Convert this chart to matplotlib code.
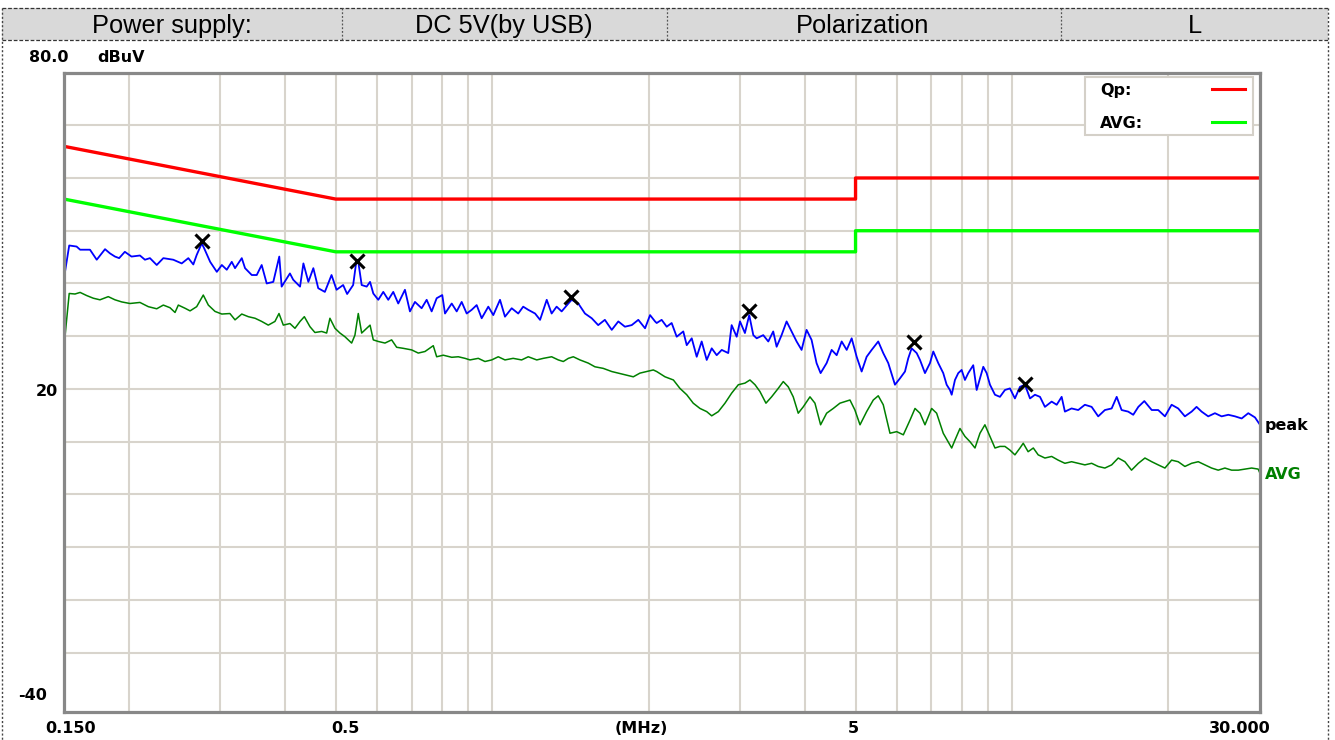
import matplotlib
matplotlib.use('Agg')
import matplotlib.pyplot as plt
from matplotlib.lines import Line2D
from matplotlib.patches import Rectangle
from matplotlib.ticker import NullLocator

plt.rcParams['font.family'] = ['DejaVu Sans']

# header cells
header_texts = ['Power supply:', 'DC 5V(by USB)', 'Polarization', 'L']

# limit lines (MHz, dBuV)
limit_freq = [0.15, 0.5, 5, 5, 30]
qp_limit = [66, 56, 56, 60, 60]
avg_limit = [56, 46, 46, 50, 50]

# peak trace
peak_freq = [0.150, 0.1535, 0.1586, 0.1611, 0.1683, 0.1734, 0.1799, 0.1839, 0.1880, 0.1915,
             0.1964, 0.2023, 0.2100, 0.2147, 0.2195, 0.2262, 0.2329, 0.2434, 0.2527, 0.2602,
             0.2660, 0.2700, 0.2761, 0.2790, 0.2866, 0.2952, 0.3018, 0.3085, 0.3154, 0.3200,
             0.3297, 0.3345, 0.3446, 0.3523, 0.3601, 0.3682, 0.3791, 0.3893, 0.3934, 0.4081,
             0.4141, 0.4268, 0.4332, 0.4428, 0.4527, 0.4626, 0.4764, 0.4907, 0.5017, 0.5166,
             0.5258, 0.5400, 0.5482,
             0.5524, 0.5608, 0.5734, 0.5820, 0.5904, 0.6036, 0.6171, 0.6309, 0.6450, 0.6594,
             0.6793, 0.6945, 0.7101, 0.7314, 0.7479, 0.7646, 0.7818, 0.8014, 0.8112, 0.8357,
             0.8543, 0.8734, 0.8930, 0.9129, 0.9334, 0.9543, 0.9827, 1.0047, 1.035, 1.058,
             1.090, 1.122, 1.147, 1.173, 1.209, 1.236, 1.273, 1.301, 1.330, 1.360,
             1.401, 1.422, 1.464, 1.508, 1.554, 1.599, 1.647, 1.698, 1.748, 1.800,
             1.855, 1.910, 1.968, 2.012, 2.057,
             2.072, 2.118, 2.166, 2.214, 2.264, 2.331, 2.367, 2.420, 2.474, 2.529,
             2.586, 2.644, 2.703, 2.764, 2.845, 2.888, 2.953, 2.997, 3.063, 3.122,
             3.179, 3.227, 3.322, 3.397, 3.472, 3.525, 3.603, 3.684, 3.767, 3.851,
             3.937, 4.025, 4.115, 4.207, 4.283, 4.399, 4.498, 4.599, 4.702, 4.808,
             4.915, 5.025, 5.137, 5.252, 5.370, 5.529, 5.653, 5.780, 5.954, 6.087,
             6.224, 6.315, 6.410, 6.555, 6.652, 6.801, 6.953, 7.056, 7.213, 7.374,
             7.486, 7.596,
             7.655, 7.767, 7.881, 8.000, 8.118, 8.238, 8.422, 8.551, 8.677, 8.805,
             8.938, 9.070, 9.273, 9.480, 9.692, 9.909, 10.13, 10.36, 10.59, 10.83,
             11.07, 11.32, 11.57, 11.92, 12.19, 12.46, 12.64, 13.02, 13.41, 13.81,
             14.23, 14.65, 15.09, 15.55, 15.90, 16.25, 16.73, 17.11, 17.50, 17.97,
             18.57, 19.11, 19.69, 20.28, 20.88, 21.51, 22.16, 22.65, 23.16, 23.85,
             24.57, 25.31, 26.07, 26.86, 27.66, 28.48, 29.34, 30.0]
peak_level = [41.0, 47.2, 47.0, 46.4, 46.4, 44.5, 46.5, 45.7, 45.1, 44.8,
              46.0, 45.1, 45.3, 44.5, 44.8, 43.5, 44.8, 44.5, 43.8, 44.8,
              43.6, 45.4, 47.6, 46.7, 44.1, 42.2, 43.5, 42.6, 44.1, 42.9,
              44.8, 42.9, 41.6, 41.6, 43.5, 40.0, 40.3, 45.1, 39.4, 41.9,
              40.7, 39.4, 43.8, 40.3, 42.9, 39.1, 38.4, 41.6, 38.8, 39.7,
              38.0, 39.7, 44.5,
              44.1, 39.7, 39.4, 40.3, 38.1, 36.9, 38.4, 36.9, 38.4, 36.2,
              38.8, 34.7, 36.5, 35.3, 36.9, 34.7, 37.2, 37.8, 34.3, 36.2,
              34.7, 36.5, 34.3, 35.0, 35.9, 33.4, 35.6, 34.0, 36.9, 33.7,
              35.3, 34.3, 35.6, 35.0, 34.3, 33.1, 36.9, 34.3, 35.6, 34.7,
              36.2, 36.9, 36.2, 34.3, 33.4, 32.1, 33.1, 31.2, 32.8, 31.8,
              32.1, 33.1, 31.5, 34.0, 32.8,
              32.5, 33.1, 31.8, 32.5, 29.9, 30.9, 28.3, 29.6, 26.1, 29.0,
              25.5, 27.7, 26.4, 27.4, 26.8, 32.1, 29.9, 32.8, 30.6, 34.0,
              30.2, 29.6, 30.2, 29.0, 30.9, 28.0, 30.2, 32.8, 30.9, 29.0,
              27.4, 31.2, 29.3, 24.9, 23.0, 24.9, 27.4, 26.4, 29.0, 27.4,
              29.6, 26.1, 23.3, 26.1, 27.4, 29.0, 26.8, 24.9, 20.8, 22.0,
              23.3, 25.8, 27.7, 26.8, 25.5, 23.0, 24.9, 27.1, 24.9, 23.0,
              20.8, 19.8,
              18.9, 21.7, 23.0, 23.6, 21.7, 23.0, 24.5, 19.8, 22.0, 24.2,
              23.0, 20.8, 18.9, 18.5, 19.8, 20.1, 18.2, 20.4, 20.8, 18.2,
              18.9, 18.5, 16.6, 17.6, 17.0, 18.5, 15.7, 16.3, 16.0, 17.0,
              16.6, 14.8, 16.0, 16.3, 18.5, 16.0, 15.7, 15.1, 16.6, 17.7,
              16.0, 16.0, 14.8, 17.0, 16.3, 14.8, 15.7, 16.6, 15.7, 14.8,
              15.4, 14.8, 15.1, 14.8, 14.4, 15.4, 14.6, 13.2]

# average trace
avg_freq = [0.150, 0.1535, 0.1575, 0.1611, 0.1659, 0.1708, 0.1759, 0.1825, 0.1880, 0.1937,
            0.2009, 0.2100, 0.2179, 0.2262, 0.2329, 0.2399, 0.2453, 0.2489, 0.2564, 0.2622,
            0.2700, 0.2780, 0.2843, 0.2928, 0.3018, 0.3128, 0.3200, 0.3297, 0.3394, 0.3497,
            0.3601, 0.3708, 0.3819, 0.3888, 0.3963, 0.4081, 0.4173, 0.4268, 0.4350, 0.4460,
            0.4559, 0.4697, 0.4802, 0.4872, 0.4982, 0.5093, 0.5207, 0.5364, 0.5443, 0.5524,
            0.5608, 0.5734, 0.5820, 0.5904, 0.6036, 0.6218, 0.6404, 0.6548, 0.6743, 0.6998,
            0.7206, 0.7424, 0.7701, 0.7818, 0.8049, 0.8357, 0.8604, 0.8864, 0.9062, 0.9400,
            0.9683, 0.9975, 1.027, 1.058, 1.097, 1.139, 1.173, 1.218, 1.254, 1.301,
            1.340, 1.370, 1.401, 1.432, 1.475, 1.530, 1.576, 1.635, 1.698, 1.748,
            1.800, 1.868, 1.924, 1.982, 2.041,
            2.072, 2.150, 2.231, 2.297, 2.367, 2.436, 2.510, 2.586, 2.644, 2.723,
            2.804, 2.888, 2.975, 3.063, 3.132, 3.203, 3.274, 3.362, 3.447, 3.550,
            3.630, 3.711, 3.794, 3.879, 3.966, 4.086, 4.177, 4.283, 4.399, 4.530,
            4.666, 4.878, 4.986, 5.100, 5.252, 5.409, 5.529, 5.653, 5.824, 6.000,
            6.179, 6.365, 6.507, 6.652, 6.801, 7.005, 7.161, 7.374, 7.596,
            7.655, 7.767, 7.941, 8.118, 8.301, 8.487, 8.677, 8.869, 9.070, 9.273,
            9.480, 9.692, 9.909, 10.13, 10.36, 10.51, 10.74, 10.99, 11.23, 11.57,
            11.92, 12.27, 12.64, 13.02, 13.41, 13.81, 14.23, 14.65, 15.09, 15.55,
            16.01, 16.49, 16.98, 17.50, 18.02, 18.57, 19.11, 19.69, 20.28, 20.88,
            21.51, 22.16, 22.82, 23.50, 24.21, 24.93, 25.68, 26.46, 27.25, 28.06,
            28.91, 29.76, 30.0]
avg_level = [28.0, 38.1, 38.0, 38.3, 37.7, 37.2, 36.9, 37.5, 36.9, 36.5,
             36.2, 36.4, 35.6, 35.2, 35.9, 35.4, 34.5, 35.9, 35.3, 34.8,
             35.6, 37.8, 35.9, 34.7, 34.2, 34.3, 33.1, 34.2, 33.7, 33.4,
             32.8, 32.1, 32.8, 34.3, 32.1, 32.4, 31.5, 32.8, 33.7, 31.8,
             30.7, 30.9, 30.6, 33.4, 31.5, 30.6, 29.9, 28.7, 30.2, 34.3,
             30.6, 31.5, 32.1, 29.3, 29.0, 28.7, 29.3, 27.9, 27.7, 27.4,
             26.8, 27.1, 28.2, 26.1, 26.4, 26.0, 26.1, 25.8, 25.5, 25.8,
             25.2, 25.5, 26.1, 25.5, 25.8, 25.5, 26.1, 25.5, 25.8, 26.1,
             25.5, 25.2, 25.8, 26.1, 25.5, 24.9, 24.2, 23.9, 23.3, 23.0,
             22.7, 22.3, 23.0, 23.3, 23.6,
             23.3, 22.3, 21.7, 20.1, 18.9, 17.3, 16.3, 15.7, 14.9, 15.7,
             17.3, 19.2, 20.8, 21.1, 21.7, 20.8, 19.5, 17.3, 18.5, 20.1,
             21.4, 20.4, 18.5, 15.4, 16.6, 18.5, 17.3, 13.2, 15.4, 16.3,
             17.3, 17.9, 16.0, 13.2, 15.7, 17.9, 18.7, 17.0, 11.6, 11.9,
             11.3, 14.1, 16.3, 15.4, 13.2, 16.3, 15.4, 11.6, 9.4,
             8.8, 10.3, 12.5, 11.0, 10.0, 8.8, 11.6, 13.2, 11.0, 8.8,
             9.1, 9.1, 8.4, 7.5, 8.8, 9.7, 8.1, 8.8, 7.5, 6.9,
             7.2, 6.5, 5.9, 6.2, 5.9, 5.6, 5.9, 5.3, 5.0, 5.6,
             6.9, 6.2, 4.6, 5.9, 6.9, 6.2, 5.6, 5.0, 6.5, 6.2,
             5.3, 5.9, 6.2, 5.6, 5.0, 4.6, 5.0, 4.6, 4.6, 4.8,
             5.0, 4.8, 4.0]

# marked peaks
marker_freq = [0.277, 0.549, 1.418, 3.12, 6.48, 10.59]
marker_level = [48.1, 44.3, 37.4, 34.8, 28.9, 21.0]

# grid
grid_freq = [0.2, 0.3, 0.4, 0.5, 0.6, 0.7, 0.8, 0.9, 1, 2, 3, 4, 5, 6, 7, 8, 9, 10, 20]
grid_level = [-30, -20, -10, 0, 10, 20, 30, 40, 50, 60, 70]

W, H = 1335, 740


def fx(x):
    return x / W


def fy(y):
    return 1 - y / H


fig = plt.figure(figsize=(W / 100, H / 100), dpi=100)
fig.patch.set_facecolor('white')
ax = fig.add_axes([fx(64), fy(711.7), 1196 / W, 639.2 / H])

ax.set_xscale('log')
ax.set_xlim(0.15, 30)
ax.set_ylim(-41.2, 80)
ax.set_xticks(grid_freq)
ax.xaxis.set_minor_locator(NullLocator())
ax.set_yticks(grid_level)
ax.set_xticklabels([])
ax.set_yticklabels([])
ax.tick_params(length=0)
ax.grid(True, color='#d8d4cc', lw=1.5)
ax.set_axisbelow(True)
for s in ax.spines.values():
    s.set_color('#888888')
    s.set_linewidth(2.3)

# limits
ax.plot(limit_freq, qp_limit, color='#ff0000', lw=2.4)
ax.plot(limit_freq, avg_limit, color='#00ff00', lw=2.4)
# traces
ax.plot(avg_freq, avg_level, color='#008000', lw=1.1)
ax.plot(peak_freq, peak_level, color='#0000ff', lw=1.3)
ax.plot(marker_freq, marker_level, ls='none', marker='x', color='black', ms=9.5, mew=2.2)

# header row
fig.patches.append(Rectangle((fx(2), fy(40)), fx(1328) - fx(2), fy(8) - fy(40),
                             transform=fig.transFigure, facecolor='#d9d9d9', edgecolor='none', zorder=1))
for yy in [8, 40]:
    fig.lines.append(Line2D([fx(2), fx(1328)], [fy(yy), fy(yy)], transform=fig.transFigure,
                            color='#333333', lw=0.9, ls=(0, (3, 1.5))))
for xx in [342, 667, 1061]:
    fig.lines.append(Line2D([fx(xx), fx(xx)], [fy(8), fy(40)], transform=fig.transFigure,
                            color='#555555', lw=0.9, ls=(0, (1.5, 1.5))))
# outer dotted border
for xx in [2, 1328]:
    fig.lines.append(Line2D([fx(xx), fx(xx)], [fy(8), 0], transform=fig.transFigure,
                            color='#444444', lw=1.0, ls=(0, (1.5, 1.5))))

header_x = [171.5, 504, 863, 1195]
for t, xx in zip(header_texts, header_x):
    fig.text(fx(xx), fy(33.3), t, ha='center', va='baseline', fontsize=18.3,
             family='Liberation Sans', color='black')

# axis labels
lab = dict(fontsize=11.5, fontweight='bold', va='baseline', color='black')
fig.text(fx(49), fy(61.5), '80.0', ha='center', **lab)
fig.text(fx(121), fy(61.5), 'dBuV', ha='center', **lab)
fig.text(fx(47), fy(396), '20', ha='center', **lab)
fig.text(fx(32.5), fy(700), '-40', ha='center', **lab)
fig.text(fx(71), fy(733), '0.150', ha='center', **lab)
fig.text(fx(345), fy(733), '0.5', ha='center', **lab)
fig.text(fx(641), fy(733), '(MHz)', ha='center', **lab)
fig.text(fx(853), fy(733), '5', ha='center', **lab)
fig.text(fx(1240), fy(733), '30.000', ha='center', **lab)
fig.text(fx(1265), fy(430), 'peak', ha='left', **lab)
lab['color'] = '#008000'
fig.text(fx(1265), fy(479), 'AVG', ha='left', **lab)

# legend box
fig.patches.append(Rectangle((fx(1085), fy(135)), fx(1253) - fx(1085), fy(76.7) - fy(135),
                             transform=fig.transFigure, facecolor='white', edgecolor='#d4d0c8',
                             lw=1.5, zorder=5))
fig.text(fx(1100), fy(95), 'Qp:', fontsize=11.5, fontweight='bold', va='baseline', zorder=6)
fig.text(fx(1100), fy(128), 'AVG:', fontsize=11.5, fontweight='bold', va='baseline', zorder=6)
fig.lines.append(Line2D([fx(1212), fx(1245)], [fy(88.5), fy(88.5)], transform=fig.transFigure,
                        color='#ff0000', lw=2.2, zorder=6))
fig.lines.append(Line2D([fx(1212), fx(1245)], [fy(122), fy(122)], transform=fig.transFigure,
                        color='#00ff00', lw=2.2, zorder=6))

fig.savefig('out.png', dpi=100)
